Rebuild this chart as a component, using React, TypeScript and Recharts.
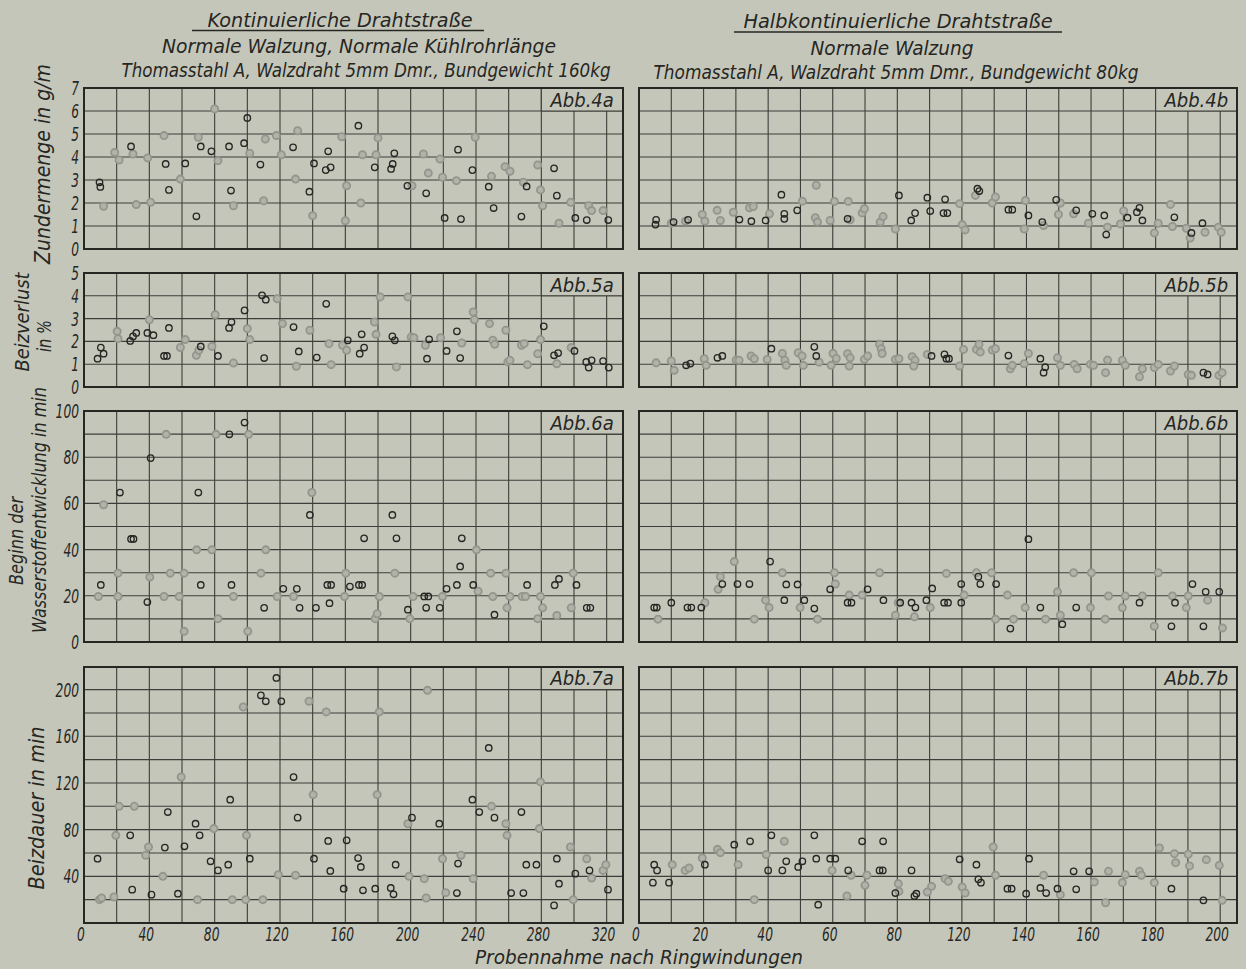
import React from "react";
import { ScatterChart, Scatter, XAxis, YAxis, CartesianGrid, ReferenceArea } from "recharts";

type Pt = [number, number];

const PAPER = "#c5c6ba";
const INK = "#262623";
const GRID = "#3d3e39";
const FAINT = "#94958c";
const FONT = "'Liberation Sans Narrow', 'DejaVu Sans Condensed', 'Liberation Sans', sans-serif";

// x axes: left = kontinuierlich (0..330), right = halbkontinuierlich (printed labels skip 100)
const LEFT_X_TICKS = [0, 20, 40, 60, 80, 100, 120, 140, 160, 180, 200, 220, 240, 260, 280, 300, 320];
const LEFT_X_LABELED = [0, 40, 80, 120, 160, 200, 240, 280, 320];
const RIGHT_X_TICKS = [0, 10, 20, 30, 40, 50, 60, 70, 80, 90, 100, 110, 120, 130, 140, 150, 160, 170, 180];
const RIGHT_X_LABELS = ["0", "20", "40", "60", "80", "120", "140", "160", "180", "200"];

// y axes
const Y4_TICKS = [0, 1, 2, 3, 4, 5, 6, 7];
const Y5_TICKS = [0, 1, 2, 3, 4, 5];
const Y6_TICKS = [0, 10, 20, 30, 40, 50, 60, 70, 80, 90, 100];
const Y6_LABELED = [0, 20, 40, 60, 80, 100];
const Y7_TICKS = [0, 20, 40, 60, 80, 100, 120, 140, 160, 180, 200];
const Y7_LABELED = [40, 80, 120, 160, 200];

// Abb. 4 – Zundermenge in g/m
const A4_DARK: Pt[] = [[9.5,2.9],[10,2.7],[28.8,4.46],[50,3.7],[52,2.57],[62,3.72],[68.8,1.42],[71.5,4.46],[78,4.25],[88.8,4.46],[90,2.54],[98,4.6],[100,5.7],[108,3.67],[128,4.42],[138,2.49],[140.8,3.72],[148,3.43],[149.5,4.25],[151,3.55],[168,5.36],[178,3.55],[188,3.48],[189,3.7],[190,4.16],[198,2.75],[209.5,2.42],[220.8,1.35],[229,4.32],[230.8,1.3],[237.8,3.43],[247.8,2.71],[250.8,1.78],[267.8,1.41],[271,2.72],[287.8,3.51],[289.5,2.32],[300.8,1.35],[307.8,1.26],[321,1.26]];
const A4_FAINT: Pt[] = [[12,1.86],[18.8,4.2],[21.5,3.87],[30,4.13],[32,1.93],[39,3.96],[40.8,2.03],[49,4.93],[59,3.04],[70,4.86],[80,6.09],[82,3.84],[91.5,1.88],[101.5,4.16],[110,2.1],[111,4.78],[117.8,4.93],[120.8,4.1],[129.5,3.04],[130.8,5.14],[140,1.45],[157.8,4.88],[160,1.23],[160.8,2.75],[169.5,2],[170.5,4.1],[178.8,4.1],[180,4.83],[200.8,2.75],[207.8,4.13],[210.8,3.3],[218,3.91],[219.5,3.12],[228,2.97],[239.5,4.86],[249.5,3.16],[257.8,3.58],[260.8,3.38],[269,2.9],[277.8,3.65],[279.5,2.57],[280.8,1.88],[290.8,1.12],[298,2.03],[309,1.88],[310.8,1.67],[317.8,1.67]];
const B4_DARK: Pt[] = [[5.3,1.27],[5.1,1.06],[10.7,1.17],[15.2,1.27],[31.1,1.28],[34.8,1.21],[39.2,1.24],[44.1,2.36],[45,1.53],[45,1.31],[49,1.68],[64.6,1.31],[80.5,2.33],[84.3,1.24],[85.5,1.56],[89.3,2.23],[90.2,1.65],[94.3,1.56],[95.5,1.56],[94.8,2.16],[104.8,2.62],[105.4,2.52],[114.4,1.71],[115.6,1.71],[120.6,1.46],[124.9,1.17],[129.2,2.14],[135.4,1.68],[140.4,1.53],[144.1,1.46],[144.7,0.63],[151.3,1.36],[154.2,1.6],[155,1.79],[155.9,1.24],[165.8,1.38],[171.1,0.7],[174.5,1.12]];
const B4_FAINT: Pt[] = [[10,1.12],[14.4,1.21],[19.6,1.5],[20.4,1.21],[24.2,1.68],[25.2,1.24],[29.2,1.6],[34.2,1.79],[35.4,1.85],[40.4,1.53],[50.6,2.08],[54.6,1.36],[55.3,1.17],[54.9,2.77],[59.2,1.24],[60.5,2.07],[65.4,1.27],[64.8,2.07],[69.1,1.57],[69.8,1.75],[74.7,1.17],[75.6,1.41],[79.4,0.87],[99.3,1.97],[100.1,1.06],[101,0.83],[104.2,2.33],[109.4,2],[110.4,2.26],[119.7,2.11],[119.3,0.87],[125.3,1.02],[130.5,2],[129.9,1.5],[134.6,1.53],[139.2,1.12],[145.1,0.95],[149.1,1.09],[150.1,1.65],[159.6,0.7],[160.8,1.12],[164.6,1.94],[165.2,0.98],[169.5,0.9],[170.7,0.48],[175.3,0.73],[179.4,0.95],[180.3,0.73]];

// Abb. 5 – Beizverlust in %
const A5_DARK: Pt[] = [[8.3,1.24],[10.3,1.73],[12,1.46],[28.3,2.02],[30,2.22],[32,2.37],[38.8,2.37],[42.5,2.27],[49,1.36],[50.8,1.36],[52,2.59],[71.5,1.78],[82,1.36],[88.8,2.59],[90.3,2.85],[98.3,3.36],[109,4.02],[111.3,3.83],[110.3,1.27],[128.3,2.63],[131.5,1.56],[142.5,1.29],[148.3,3.65],[161.5,2.05],[168.8,1.46],[170,2.31],[171.5,1.73],[188.8,2.22],[190.3,2.05],[210,1.24],[211.3,2.09],[222,1.58],[228.3,2.44],[230.3,1.27],[281.5,2.66],[287.8,1.39],[290.3,1.49],[300.3,1.58],[307.5,1.1],[309,0.85],[310.8,1.17],[317.8,1.14],[321.3,0.85]];
const A5_FAINT: Pt[] = [[20.8,2.12],[20.3,2.44],[40,2.95],[59,1.73],[62,2.08],[68.8,1.39],[70.3,1.61],[78.3,1.78],[80.3,3.17],[91.5,1.05],[100,2.56],[101.5,2.08],[118.3,3.87],[121.5,2.78],[130,0.91],[138.3,2.49],[150,1.9],[151.3,0.98],[158.3,1.83],[160.8,1.61],[177.8,2.85],[178.8,2.31],[181.3,3.95],[191.3,0.88],[198.3,3.95],[200.3,2.19],[202,2.16],[209,1.83],[218.3,2.16],[231.3,1.93],[239,2.95],[238.3,3.29],[248.3,2.78],[250.3,2.05],[251.5,1.87],[258.3,2.49],[259.5,1.1],[260.8,1.17],[267.8,1.83],[269.5,1.9],[271.5,0.98],[277.8,1.46],[279.5,2.08],[289.5,1.02],[298.3,1.73]];
const B5_DARK: Pt[] = [[14.6,0.95],[15.9,1.03],[24.3,1.28],[25.8,1.36],[41,1.68],[54.3,1.76],[54.9,1.36],[90.6,1.36],[94.6,1.43],[95.2,1.24],[96,1.24],[114.4,1.38],[124.3,1.24],[125.8,0.87],[125.3,0.63],[174.8,0.63],[176.1,0.55]];
const B5_FAINT: Pt[] = [[5.3,1.06],[10,1.14],[10.9,0.73],[20.2,1.24],[20.8,0.95],[30.1,1.18],[31,1.17],[34.7,1.36],[35.7,1.24],[39.7,1.21],[44.4,1.47],[45.2,1.17],[45.6,0.95],[49.3,1.5],[50.5,1.36],[50.9,0.95],[55.8,1.09],[59.5,0.95],[60.1,1.47],[61.1,1.25],[64.6,1.46],[65.4,1.28],[65.1,0.92],[69.8,1.21],[70.8,1.36],[74.5,1.87],[75,1.68],[75.3,1.47],[79.4,1.21],[80.5,1.24],[84.6,1.33],[85.5,1.17],[85.1,0.92],[89.3,1.43],[99.3,0.92],[100.5,1.65],[104.5,1.65],[105.3,1.87],[105.7,1.53],[109.4,1.62],[110.4,1.68],[115,0.8],[115.6,0.95],[119.3,1.02],[120.6,1.47],[129.6,1.28],[130.5,0.95],[134.8,0.99],[135.7,0.8],[139.8,0.99],[140.8,0.95],[144.5,0.63],[145.1,1.18],[149.7,1.17],[150.6,0.95],[155,0.45],[155.9,0.8],[159.6,0.85],[160.8,0.99],[164.6,0.7],[165.8,0.92],[170.1,0.55],[171.1,0.51],[179.6,0.51],[180.6,0.63]];

// Abb. 6 – Beginn der Wasserstoffentwicklung in min
const A6_DARK: Pt[] = [[10.3,24.7],[22,64.7],[28.8,44.6],[30.3,44.6],[38.8,17.3],[40.8,79.6],[70,64.7],[71.5,24.7],[89,89.9],[90.3,24.7],[98.3,95],[110.3,14.8],[122,23],[130.3,23],[132,14.8],[138.3,55],[142,14.8],[149,24.7],[151.3,24.7],[150.3,16.8],[162.8,24],[168.3,24.7],[170.3,24.7],[171.5,44.9],[188.8,55],[191.3,44.9],[198.3,14],[208.3,19.7],[210.8,19.7],[209.5,14.8],[217.8,14.8],[222,23],[228.3,24.7],[230.3,32.7],[231.3,44.9],[238.3,24.7],[251.3,11.8],[271.3,24.7],[288.3,24.7],[290.8,27.3],[301.5,24.7],[307.8,14.8],[310,14.8]];
const A6_FAINT: Pt[] = [[8.8,19.7],[12,59.4],[20.8,29.8],[20.8,19.7],[40.3,28.1],[49,19.7],[50.3,89.9],[52.8,29.8],[58.3,19.7],[61.3,29.8],[61.3,4.6],[69,39.9],[78.3,39.9],[82,10.1],[80.8,89.9],[91.5,19.7],[100.3,4.6],[100.8,89.9],[108.3,29.8],[111.3,39.9],[118.3,19.7],[128.3,19.7],[139.5,64.7],[159.5,19.7],[160.3,29.8],[178.3,10.1],[179.5,12.2],[180.8,19.7],[190.3,29.8],[199.5,10.1],[201.5,19.7],[219.5,19.7],[240.3,39.9],[241.3,22],[249,29.8],[250.3,19.7],[258.3,29.8],[259,14.8],[260.8,19.7],[268.3,19.7],[270.3,19.7],[277.8,10.1],[280.8,14.8],[279.5,19.7],[289.5,11.5],[298.3,14.8],[299.5,29.8]];
const B6_DARK: Pt[] = [[4.7,14.9],[5.5,14.9],[10,17],[15,14.9],[16.2,14.9],[19.3,14.9],[25.8,25.1],[30.5,25.1],[34.2,25.1],[40.6,34.8],[45,18.1],[45.6,24.9],[49.1,24.9],[51.2,18.1],[54.3,14.5],[59.2,22.8],[64.6,17],[65.8,17],[70.8,22.8],[75.7,18.1],[80.9,17],[84.4,17],[85.6,14.9],[89,18.1],[90.8,23.2],[94.5,17],[95.7,17],[99.8,25.1],[99.8,17],[105.1,28.3],[105.7,25.1],[110.6,25.1],[115,5.8],[120.6,44.5],[124.3,14.9],[131.1,7.7],[135.4,14.9],[155,17],[164.9,6.8],[166,17],[171.4,25.1],[174.8,6.8],[175.5,21.7],[179.7,21.7]];
const B6_FAINT: Pt[] = [[5.9,9.9],[20.4,17],[24.5,22.8],[25.2,28.3],[29.5,34.8],[35.7,9.9],[39.2,18.1],[40.3,14.9],[44.4,30],[49.9,14.9],[55.3,9.9],[60.5,30],[60.8,25.1],[65.1,20.3],[69.1,20.3],[74.5,30],[79.4,11.6],[80.3,17],[85.3,10.9],[90.2,14.9],[95.2,29.7],[100.7,20.3],[104.5,30],[109.2,30],[110.4,9.9],[114.1,20.3],[116,9.9],[119.6,14.9],[125.9,9.9],[129.6,21.7],[130.5,11.6],[134.6,30],[139.8,14.9],[140.1,30],[144.4,9.9],[145.4,19.9],[149.7,14.9],[150.6,19.9],[155.9,19.9],[159.6,6.8],[160.8,30],[165.2,19.9],[169.5,14.9],[170.1,19.9],[176.1,18.1],[180.7,6.1]];

// Abb. 7 – Beizdauer in min
const A7_DARK: Pt[] = [[8.3,55.1],[28.3,75.1],[29.5,28.6],[41.3,24.3],[49.5,64.6],[51.3,95.1],[57.5,25.1],[61.5,65.7],[68.3,85.1],[70.8,75.1],[77.5,52.9],[82,45.1],[88.3,50],[89.5,105.7],[101.5,55.1],[108.3,195.1],[111.3,190],[117.8,210],[120.8,190],[128.3,125.1],[130.8,90.3],[140.8,55.1],[149.5,70.3],[150.8,44.6],[159,29.4],[160.8,70.9],[167.8,55.7],[169.5,48],[170.8,28],[178.3,29.4],[187.8,30],[189.5,24.6],[190.8,50],[200.8,90.3],[217.5,85.1],[228.3,25.7],[229,50.9],[237.8,105.7],[242,95.1],[247.8,150],[251.3,90.3],[261.5,25.7],[267.8,95.1],[269,25.7],[270.8,50],[277,50],[287.8,15.1],[289.5,55.1],[290.8,33.7],[300.8,42.3],[309.5,45.1],[320.8,28.6]];
const A7_FAINT: Pt[] = [[9.5,20],[10.8,21.4],[18.3,22.3],[19.5,75.1],[21.5,100],[30.8,100],[37.8,58],[39.5,65.1],[48.3,40],[59.5,125.1],[69.5,20],[79.5,80.9],[90.8,20],[97.5,185.1],[99.5,75.1],[99,20],[109.5,20],[119,41.4],[129.5,40.9],[137.8,190],[140.3,110],[148.3,180.9],[179.5,110],[180.8,180.9],[198.3,85.1],[199,40],[208.3,38],[209.5,21.4],[210.3,199.4],[219.5,55.1],[221.5,26],[230.8,58],[238.3,38],[249.5,100],[258.3,85.1],[259,75.1],[279.5,120.9],[278.8,80.9],[297.8,65.1],[299.5,20],[307.8,55.1],[310.8,38.6],[317.8,45.1],[319.5,50]];
const B7_DARK: Pt[] = [[4.7,50],[5.6,45.1],[4.3,34.6],[9.3,34.6],[20.4,50],[29.5,67.1],[34.4,70],[41,75.1],[40,45.1],[44.4,45.1],[45.6,52.9],[49.3,48],[50.6,52.9],[54.3,75.1],[54.9,55.1],[55.5,15.7],[59.2,55.1],[60.8,55.1],[64.8,45.1],[69.1,70],[75.6,70],[74.5,45.1],[75.5,45.1],[79.4,25.7],[84.4,45.1],[85.3,23.1],[85.9,25.1],[99.3,54.6],[104.5,50],[105.1,37.4],[105.9,34.6],[114.1,29.4],[115.4,29.4],[119.9,25.1],[120.8,55.1],[124.3,30],[126.1,25.7],[129.6,29.4],[134.6,44.3],[135.4,28.9],[139.4,44.3],[164.9,29.4],[174.8,19.4]];
const B7_FAINT: Pt[] = [[10.3,50],[14.3,45.1],[15.5,47.1],[19.6,55.7],[24.3,63.1],[25.2,60.3],[30.7,50],[35.7,20],[39.4,58.6],[45,70],[59.8,45.1],[64.4,23.1],[65.7,40.9],[70,32.3],[70.6,40.9],[80.5,27.1],[80.3,33.7],[89.3,26.6],[90.6,31.4],[94.8,38],[95.8,35.7],[100.1,30.9],[101,25.7],[109.7,65.1],[110.4,40.9],[125.3,40.9],[130.5,24.3],[141,35.1],[144.5,17.4],[145.4,44.3],[149.7,34.6],[150.6,41.4],[155,44.3],[155.6,40.9],[159.6,34.6],[161.2,64.3],[165.8,59.4],[166.2,51.7],[170.1,58.9],[170.5,48.9],[175.7,54.3],[179.7,49.4],[180.6,19.4]];

const toRows = (pts: Pt[]) => pts.map(([x, y]) => ({ x, y }));

const darkDot = (p: any) => (
  <circle cx={p.cx} cy={p.cy} r={3.2} fill="none" stroke={INK} strokeWidth={1.35} />
);
const faintDot = (p: any) => (
  <circle cx={p.cx} cy={p.cy} r={3.6} fill="#b2b3a8" stroke={FAINT} strokeWidth={1.8} />
);

// narrow italic numerals, squeezed to the width of the drawn lettering
const AxisTick = ({ x, y, payload, fmt, anchor, baseline, dx = 0 }: any) => {
  const s = fmt(payload.value);
  if (!s) return null;
  return (
    <text
      x={x + dx}
      y={y}
      textAnchor={anchor}
      dominantBaseline={baseline}
      fontSize={20}
      fontStyle="italic"
      fontFamily={FONT}
      fill={INK}
      textLength={s.length * 7.8}
      lengthAdjust="spacingAndGlyphs"
    >
      {s}
    </text>
  );
};

interface PanelProps {
  side: "a" | "b";
  top: number;
  plotH: number;
  yMax: number;
  yTicks: number[];
  yLabeled: number[];
  cellY: number;
  abb: string;
  dark: Pt[];
  faint: Pt[];
  bottom: boolean;
}

const LEFT_PLOT = { left: 84, w: 539, xMax: 330, cellX: 280 };
const RIGHT_PLOT = { left: 639, w: 598, xMax: 185.2, cellX: 160 };

function Panel(p: PanelProps) {
  const isLeft = p.side === "a";
  const g = isLeft ? LEFT_PLOT : RIGHT_PLOT;
  const yW = isLeft ? 70 : 0;
  const mL = isLeft ? 0 : 10;
  const mT = 14;
  const mR = 4;
  const mB = p.bottom ? 0 : 14;
  const xH = p.bottom ? 30 : 0;
  const width = mL + yW + g.w + mR;
  const height = mT + p.plotH + xH + mB;

  const xFmt = (v: number) =>
    isLeft
      ? LEFT_X_LABELED.includes(v) ? String(v) : ""
      : v % 20 === 0 ? RIGHT_X_LABELS[v / 20] : "";
  const yFmt = (v: number) => (p.yLabeled.includes(v) ? String(v) : "");

  return (
    <div style={{ position: "absolute", left: g.left - yW - mL, top: p.top - mT }}>
      <ScatterChart width={width} height={height} margin={{ top: mT, right: mR, bottom: mB, left: mL }}>
        <CartesianGrid stroke={GRID} strokeWidth={1.1} />
        <XAxis
          type="number"
          dataKey="x"
          domain={[0, g.xMax]}
          ticks={isLeft ? LEFT_X_TICKS : RIGHT_X_TICKS}
          interval={0}
          allowDataOverflow
          hide={!p.bottom}
          height={xH}
          tickLine={false}
          axisLine={false}
          tickSize={0}
          tickMargin={3}
          tick={(t: any) => <AxisTick {...t} fmt={xFmt} anchor="middle" baseline="hanging" dx={-3} />}
        />
        <YAxis
          type="number"
          dataKey="y"
          domain={[0, p.yMax]}
          ticks={p.yTicks}
          interval={0}
          allowDataOverflow
          hide={!isLeft}
          width={yW}
          tickLine={false}
          axisLine={false}
          tickSize={0}
          tickMargin={5}
          tick={(t: any) => <AxisTick {...t} fmt={yFmt} anchor="end" baseline="central" />}
        />
        <ReferenceArea
          x1={g.cellX}
          x2={g.xMax}
          y1={p.cellY}
          y2={p.yMax}
          fill={PAPER}
          fillOpacity={1}
          stroke={GRID}
          strokeWidth={1.1}
          label={{ value: p.abb, position: "center", fill: INK, fontSize: 20, fontStyle: "italic", fontFamily: FONT }}
        />
        <ReferenceArea x1={0} x2={g.xMax} y1={0} y2={p.yMax} fill="none" stroke={INK} strokeWidth={2} />
        <Scatter data={toRows(p.faint)} shape={faintDot} isAnimationActive={false} />
        <Scatter data={toRows(p.dark)} shape={darkDot} isAnimationActive={false} />
      </ScatterChart>
    </div>
  );
}

const ROWS = [
  { top: 87.5, plotH: 161, yMax: 7, yTicks: Y4_TICKS, yLabeled: Y4_TICKS, cellY: 6, n: "4" },
  { top: 273, plotH: 114, yMax: 5, yTicks: Y5_TICKS, yLabeled: Y5_TICKS, cellY: 4, n: "5" },
  { top: 410.5, plotH: 231, yMax: 100, yTicks: Y6_TICKS, yLabeled: Y6_LABELED, cellY: 90, n: "6" },
  { top: 667, plotH: 256, yMax: 219.4, yTicks: Y7_TICKS, yLabeled: Y7_LABELED, cellY: 200, n: "7" },
];

const SERIES: Record<string, { dark: Pt[]; faint: Pt[] }> = {
  "4a": { dark: A4_DARK, faint: A4_FAINT },
  "4b": { dark: B4_DARK, faint: B4_FAINT },
  "5a": { dark: A5_DARK, faint: A5_FAINT },
  "5b": { dark: B5_DARK, faint: B5_FAINT },
  "6a": { dark: A6_DARK, faint: A6_FAINT },
  "6b": { dark: B6_DARK, faint: B6_FAINT },
  "7a": { dark: A7_DARK, faint: A7_FAINT },
  "7b": { dark: B7_DARK, faint: B7_FAINT },
};

const HText = ({ x, y, len, size = 19, children }: any) => (
  <text x={x} y={y} textAnchor="middle" textLength={len} lengthAdjust="spacingAndGlyphs" fontSize={size} fontStyle="italic" fill={INK}>
    {children}
  </text>
);

const VText = ({ x, y, len, size = 20, children }: any) => (
  <text
    x={x}
    y={y}
    transform={`rotate(-90 ${x} ${y})`}
    textAnchor="middle"
    dominantBaseline="central"
    textLength={len}
    lengthAdjust="spacingAndGlyphs"
    fontSize={size}
    fontStyle="italic"
    fill={INK}
  >
    {children}
  </text>
);

export default function App() {
  return (
    <div
      style={{
        position: "absolute",
        left: 0,
        top: 0,
        width: 1246,
        height: 969,
        background: PAPER,
        overflow: "hidden",
        fontFamily: FONT,
      }}
    >
      {ROWS.map((r, i) =>
        (["a", "b"] as const).map((side) => {
          const key = r.n + side;
          return (
            <Panel
              key={key}
              side={side}
              top={r.top}
              plotH={r.plotH}
              yMax={r.yMax}
              yTicks={r.yTicks}
              yLabeled={r.yLabeled}
              cellY={r.cellY}
              abb={`Abb.${key}`}
              dark={SERIES[key].dark}
              faint={SERIES[key].faint}
              bottom={i === ROWS.length - 1}
            />
          );
        })
      )}
      <svg width={1246} height={969} style={{ position: "absolute", left: 0, top: 0, pointerEvents: "none", fontFamily: FONT }}>
        <HText x={340} y={27} len={265}>Kontinuierliche Drahtstraße</HText>
        <line x1={192} x2={484} y1={30.5} y2={30.5} stroke={INK} strokeWidth={1.5} />
        <HText x={359} y={53} len={394}>Normale Walzung,  Normale Kühlrohrlänge</HText>
        <HText x={366} y={77} len={489}>Thomasstahl A, Walzdraht 5mm Dmr., Bundgewicht 160kg</HText>

        <HText x={898} y={28} len={309}>Halbkontinuierliche Drahtstraße</HText>
        <line x1={734} x2={1062} y1={32} y2={32} stroke={INK} strokeWidth={1.5} />
        <HText x={892} y={55} len={163}>Normale Walzung</HText>
        <HText x={896} y={79} len={485}>Thomasstahl A, Walzdraht 5mm Dmr., Bundgewicht 80kg</HText>

        <VText x={43} y={164} len={200} size={21}>Zundermenge in g/m</VText>
        <VText x={21.5} y={322} len={99}>Beizverlust</VText>
        <VText x={44} y={336} len={32}>in %</VText>
        <VText x={16} y={541} len={88}>Beginn der</VText>
        <VText x={39} y={510} len={246}>Wasserstoffentwicklung in min</VText>
        <VText x={37} y={808} len={163} size={21}>Beizdauer in min</VText>

        <HText x={639} y={964} len={328} size={19}>Probennahme nach Ringwindungen</HText>
      </svg>
    </div>
  );
}
